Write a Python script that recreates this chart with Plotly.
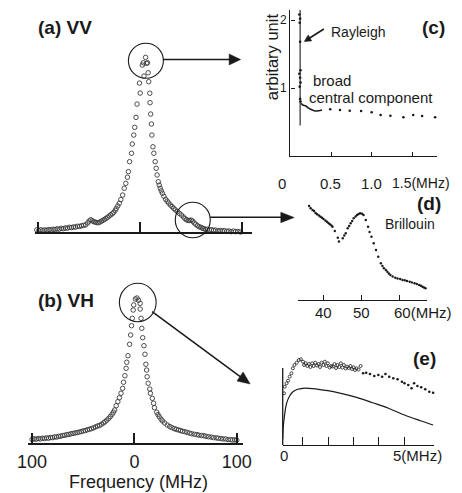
import plotly.graph_objects as go

W, H = 462, 493
FONT = "Liberation Sans, Arial, sans-serif"
INK = "#1a1a1a"

# ---------------- data ----------------
# (a) VV spectrum: frequency (MHz), normalized intensity
vv_freq = [-101, -99, -97, -95, -93, -91, -89, -87, -85, -83, -81, -79, -77, -75, -73, -71,
           -69, -67, -65, -63, -61, -59, -57, -55, -53, -51, -49.5, -48, -46.5, -45, -43.5,
           -42, -40.5, -39, -37.5, -36, -34.5, -33, -31.5, -30, -28.5, -27, -25.5, -24, -23,
           -21.5, -20, -18.5, -16.7, -15.2, -13.6, -12, -11.1, -9.9, -8, -7.3, -5.8, -4.9,
           -3.6, -2.6, 0.5, -0.2, 4.2, 2.6, 3.6, 5.8, 6.8, 7.7,
           8.3, 8.9, 9.9, 10.2, 10.8, 11.5, 12.0, 13.0, 13.9, 15.2, 16.2, 17.1, 18.3, 19.2,
           20.2, 21.2, 22.3, 23.8, 25.5, 27, 28.5, 30.2, 31.8, 33.5, 35, 37, 39, 41, 43,
           44.5, 46, 47.5, 49, 50.5, 52, 53.5, 55, 56.8, 58.4, 60, 61.5, 63, 64.6, 66.5,
           68.5, 70.5, 72.5, 74.5, 77, 79, 81, 83, 85.5, 87.5, 89.7, 92, 94, 96.5, 99]
vv_int = [0.012, 0.008, 0.013, 0.009, 0.012, 0.010, 0.014, 0.012, 0.016, 0.014, 0.018, 0.016,
          0.021, 0.019, 0.023, 0.022, 0.027, 0.025, 0.029, 0.028, 0.033, 0.032, 0.036, 0.038,
          0.041, 0.052, 0.063, 0.070, 0.064, 0.059, 0.056, 0.054, 0.053, 0.057, 0.062, 0.067,
          0.072, 0.078, 0.084, 0.091, 0.098, 0.104, 0.112, 0.124, 0.135, 0.149, 0.164, 0.185,
          0.211, 0.250, 0.278, 0.313, 0.345, 0.402, 0.450, 0.503, 0.554, 0.598, 0.655, 0.731,
          0.794, 0.851, 0.891, 0.954, 0.967, 0.998, 0.964, 0.967,
          0.910, 0.859, 0.793, 0.739, 0.674, 0.617, 0.554, 0.487, 0.450, 0.402, 0.364, 0.326,
          0.287, 0.268, 0.250, 0.235, 0.221, 0.204, 0.187, 0.176, 0.165, 0.154, 0.145, 0.135,
          0.126, 0.117, 0.106, 0.097, 0.086, 0.076, 0.070, 0.066, 0.066, 0.068, 0.062, 0.052,
          0.044, 0.036, 0.030, 0.027, 0.022, 0.019, 0.015, 0.016, 0.012, 0.013, 0.010, 0.011,
          0.007, 0.009, 0.006, 0.008, 0.004, 0.006, 0.002, 0.005, 0.002, 0.003, 0.000]

# (b) VH spectrum
vh_freq = [-100, -98, -96, -94, -92, -90, -88, -86, -84, -82, -80, -78, -76, -74, -72, -70,
           -68, -66, -64, -62, -60, -58, -56, -54, -52, -50, -48, -46, -44, -42, -40, -38,
           -36, -34, -32, -30, -28.7, -27, -25, -23.5, -21.8, -20.5, -19.3, -17.8, -16.2,
           -14.7, -13.1, -11.5, -10.6, -9.3, -8.1, -7.5, -6.3, -4.7, -3.7, -2.8, -2.1, -1.2,
           -0.7, 0.9, 2.5, 4.0, 5.6, 5.6, 6.5, 7.2, 8.1, 9.3, 10.3, 11.2, 11.9, 12.4, 13.4,
           15, 15.6, 17.5, 18.7, 19.6, 21.8, 23, 24.3, 26, 27.4, 29.5, 32.1, 34.5, 36.7, 39,
           41, 43, 45, 47, 49.3, 51.5, 54, 56, 58.6, 61, 63, 65.5, 67.9, 70, 72.5, 75, 77.3,
           80, 82, 84.5, 86.6, 89, 91.5, 94, 96, 98, 100]
vh_int = [0.024, 0.029, 0.026, 0.031, 0.028, 0.033, 0.031, 0.035, 0.033, 0.038, 0.037, 0.042,
          0.041, 0.046, 0.047, 0.052, 0.053, 0.058, 0.059, 0.064, 0.066, 0.069, 0.072, 0.075,
          0.079, 0.083, 0.086, 0.091, 0.095, 0.099, 0.104, 0.111, 0.117, 0.121, 0.130, 0.139,
          0.147, 0.158, 0.170, 0.183, 0.198, 0.213, 0.228, 0.257, 0.285, 0.312, 0.343, 0.377,
          0.419, 0.464, 0.515, 0.557, 0.602, 0.681, 0.745, 0.809, 0.860, 0.917, 0.952, 0.993,
          1.000, 0.985, 0.963, 0.924, 0.860, 0.791, 0.726, 0.671, 0.612, 0.543, 0.503, 0.457,
          0.412, 0.372, 0.343, 0.308, 0.274, 0.243, 0.212, 0.196, 0.181, 0.165, 0.152, 0.138,
          0.124, 0.114, 0.106, 0.099, 0.094, 0.090, 0.086, 0.081, 0.078, 0.073, 0.068, 0.064,
          0.060, 0.058, 0.054, 0.052, 0.050, 0.046, 0.043, 0.041, 0.037, 0.035, 0.033, 0.031,
          0.028, 0.028, 0.024, 0.023, 0.021, 0.022, 0.020]

# (c) low-frequency VV: Rayleigh line and broad central component (MHz, arb. unit)
rayleigh_line_x = [0.12, 0.12]
rayleigh_line_y = [0.45, 2.15]
rayleigh_pts_x = [0.11, 0.12, 0.115, 0.12, 0.125, 0.11, 0.12, 0.125, 0.115, 0.12, 0.125]
rayleigh_pts_y = [2.08, 2.02, 1.96, 1.68, 1.26, 1.21, 1.15, 1.08, 1.02, 0.84, 0.80]
broad_curve_x = [0.133, 0.153, 0.19, 0.23, 0.27, 0.31, 0.35, 0.39]
broad_curve_y = [0.775, 0.75, 0.735, 0.70, 0.676, 0.662, 0.666, 0.676]
broad_dots_x = [0.49, 0.61, 0.73, 0.87, 1.0, 1.11, 1.23, 1.39, 1.51, 1.62, 1.78]
broad_dots_y = [0.687, 0.676, 0.666, 0.662, 0.643, 0.603, 0.593, 0.569, 0.603, 0.588, 0.569]

# (d) Brillouin region (MHz, arb.)
bril_freq = [36.1, 36.5, 37.0, 37.4, 37.8, 38.2, 38.7, 39.1, 39.5, 39.9, 40.4, 40.8, 41.2, 41.6,
             42.0, 42.3, 42.9, 43.7, 44.0, 45.0, 45.4, 45.8, 46.3, 46.7, 47.1, 47.5, 47.9, 48.4,
             48.8, 49.2, 49.6, 50.1, 50.5, 51.1, 51.7, 52.1, 52.6, 53.2, 53.8, 54.4, 55.1, 55.5,
             55.9, 56.4, 56.8, 57.2, 57.6, 58.2, 58.9, 59.5, 60.2, 60.8, 61.4, 62.0, 62.7, 63.3,
             64.0, 64.6, 65.2, 65.7, 66.1, 66.5, 66.9]
bril_int = [0.94, 0.917, 0.90, 0.89, 0.87, 0.857, 0.845, 0.833, 0.822, 0.81, 0.795, 0.783, 0.77,
            0.757, 0.745, 0.733, 0.69, 0.623, 0.585, 0.617, 0.645, 0.667, 0.717, 0.74, 0.767,
            0.79, 0.817, 0.835, 0.85, 0.86, 0.867, 0.862, 0.85, 0.80, 0.733, 0.68, 0.633, 0.567,
            0.50, 0.433, 0.367, 0.34, 0.317, 0.30, 0.283, 0.265, 0.25, 0.235, 0.223, 0.215, 0.21,
            0.20, 0.197, 0.19, 0.183, 0.176, 0.167, 0.16, 0.15, 0.142, 0.133, 0.125, 0.117]

# (e) VH low-frequency: measured points and calculated curve (MHz, arb.)
vh_low_circ_x = [0.26, 0.29, 0.36, 0.42, 0.48, 0.55, 0.61, 0.67, 0.76, 0.84, 0.92, 1.01, 1.11,
                 1.24, 1.37, 1.49, 1.62, 1.74, 1.87, 1.99, 2.12, 2.25, 2.37, 2.50, 2.62, 2.75,
                 2.88, 3.0, 3.12, 3.28, 1.05, 1.18, 1.30, 1.43, 1.56, 1.68, 1.81, 1.93, 2.06,
                 2.18, 2.31, 2.44, 2.56, 2.69, 2.81, 2.94, 3.06, 3.2]
vh_low_circ_y = [0.517, 0.583, 0.617, 0.643, 0.683, 0.717, 0.767, 0.80, 0.823, 0.85, 0.857,
                 0.833, 0.817, 0.81, 0.817, 0.823, 0.81, 0.823, 0.833, 0.817, 0.79, 0.81, 0.80,
                 0.817, 0.80, 0.783, 0.79, 0.777, 0.767, 0.79, 0.80, 0.79, 0.78, 0.79, 0.795,
                 0.78, 0.80, 0.79, 0.775, 0.785, 0.77, 0.78, 0.775, 0.765, 0.77, 0.76, 0.75, 0.755]
vh_low_dot_x = [3.38, 3.5, 3.65, 3.82, 3.98, 4.13, 4.26, 4.41, 4.57, 4.74, 4.91, 5.01, 5.16,
                5.29, 5.39, 5.52, 5.67, 5.83, 5.99, 6.14]
vh_low_dot_y = [0.717, 0.723, 0.71, 0.69, 0.70, 0.683, 0.71, 0.683, 0.667, 0.657, 0.633, 0.617,
                0.60, 0.567, 0.617, 0.59, 0.577, 0.557, 0.533, 0.523]
calc_x = [0.21, 0.23, 0.29, 0.36, 0.48, 0.61, 0.8, 0.99, 1.24, 1.62, 1.99, 2.5, 3.12, 3.75,
          4.38, 5.01, 5.64, 6.14]
calc_y = [0.057, 0.183, 0.317, 0.417, 0.49, 0.533, 0.557, 0.567, 0.567, 0.557, 0.543, 0.517,
          0.477, 0.423, 0.367, 0.30, 0.243, 0.20]

# tick labels
ab_tickvals = [-100, 0, 100]
ab_ticktext = ["100", "0", "100"]
c_tickvals = [0.5, 1.0, 1.5]
c_ticktext = ["0.5", "1.0", "1.5"]
d_tickvals = [40, 50, 60]
d_ticktext = ["40", "50", "60"]
e_tickvals = [1, 2, 3, 4, 5]


def X(p):
    return p / W


def Y(p):
    return 1 - p / H


fig = go.Figure()

open_marker = dict(symbol="circle-open", size=4.5, color="#3a3a3a", line=dict(width=0.9, color="#3a3a3a"))

fig.add_trace(go.Scatter(x=vv_freq, y=vv_int, mode="markers", marker=open_marker,
                         xaxis="x", yaxis="y", cliponaxis=False))
fig.add_trace(go.Scatter(x=vh_freq, y=vh_int, mode="markers", marker=open_marker,
                         xaxis="x2", yaxis="y2", cliponaxis=False))

# (c)
fig.add_trace(go.Scatter(x=rayleigh_line_x, y=rayleigh_line_y, mode="lines",
                         line=dict(color=INK, width=1.1), xaxis="x3", yaxis="y3"))
fig.add_trace(go.Scatter(x=rayleigh_pts_x, y=rayleigh_pts_y, mode="markers",
                         marker=dict(size=2.6, color=INK), xaxis="x3", yaxis="y3", cliponaxis=False))
fig.add_trace(go.Scatter(x=broad_curve_x, y=broad_curve_y, mode="lines",
                         line=dict(color=INK, width=1.6, shape="spline"), xaxis="x3", yaxis="y3"))
fig.add_trace(go.Scatter(x=broad_dots_x, y=broad_dots_y, mode="markers",
                         marker=dict(size=2.6, color=INK), xaxis="x3", yaxis="y3", cliponaxis=False))

# (d)
fig.add_trace(go.Scatter(x=bril_freq, y=bril_int, mode="markers",
                         marker=dict(size=2.4, color=INK), xaxis="x4", yaxis="y4", cliponaxis=False))

# (e)
fig.add_trace(go.Scatter(x=calc_x, y=calc_y, mode="lines",
                         line=dict(color=INK, width=1.2, shape="spline"), xaxis="x5", yaxis="y5"))
fig.add_trace(go.Scatter(x=vh_low_circ_x, y=vh_low_circ_y, mode="markers",
                         marker=dict(symbol="circle-open", size=3, color=INK, line=dict(width=0.8)),
                         xaxis="x5", yaxis="y5", cliponaxis=False))
fig.add_trace(go.Scatter(x=vh_low_dot_x, y=vh_low_dot_y, mode="markers",
                         marker=dict(size=2.6, color=INK), xaxis="x5", yaxis="y5", cliponaxis=False))

axis_common = dict(showgrid=False, zeroline=False, showline=True, linecolor=INK, fixedrange=True)

layout = dict(
    width=W, height=H, margin=dict(l=0, r=0, t=0, b=0),
    paper_bgcolor="white", plot_bgcolor="rgba(0,0,0,0)", showlegend=False,
    font=dict(family=FONT, color=INK),
    # (a)
    xaxis=dict(domain=[X(25), X(252)], range=[(25 - 134.5) / 1.065, (252 - 134.5) / 1.065],
               anchor="y", linewidth=1.5, ticks="inside", ticklen=10, tickwidth=1.5, tickcolor=INK,
               tickvals=ab_tickvals, showticklabels=False, **axis_common),
    yaxis=dict(domain=[Y(232), Y(40)], range=[0, 192 / 175], anchor="x", visible=False),
    # (b)
    xaxis2=dict(domain=[X(18), X(242)], range=[(18 - 129) / 1.07, (242 - 129) / 1.07],
                anchor="y2", linewidth=1.5, ticks="inside", ticklen=10, tickwidth=1.5, tickcolor=INK,
                tickvals=ab_tickvals, ticktext=ab_ticktext, tickfont=dict(size=18, family=FONT),
                ticklabelstandoff=2, **axis_common),
    yaxis2=dict(domain=[Y(443), Y(285)], range=[0, 158 / 145], anchor="x2", visible=False),
    # (c)
    xaxis3=dict(domain=[X(292), X(445)], range=[0, (445 - 292) / 85], anchor="y3", linewidth=1.3,
                ticks="inside", ticklen=4, tickwidth=1.2, tickcolor=INK, tickvals=c_tickvals,
                showticklabels=False, **axis_common),
    yaxis3=dict(domain=[Y(156), Y(10)], range=[0, 146 / 68], anchor="x3", linewidth=1.3,
                ticks="inside", ticklen=4, tickwidth=1.2, tickcolor=INK, tickvals=[1, 2],
                ticktext=["1", "2"], tickfont=dict(size=12, family=FONT), ticklabelstandoff=0,
                **axis_common),
    # (d)
    xaxis4=dict(domain=[X(300), X(435)], range=[40 + (300 - 327) / 3.95, 40 + (435 - 327) / 3.95],
                anchor="y4", linewidth=1.3, ticks="inside", ticklen=5, tickwidth=1.2, tickcolor=INK,
                tickvals=d_tickvals, showticklabels=False, **axis_common),
    yaxis4=dict(domain=[Y(300), Y(195)], range=[0, 1.05], anchor="x4", visible=False),
    # (e) -- y range extends above the drawn axis line so the top points are kept
    xaxis5=dict(domain=[X(284), X(442)], range=[(284 - 278.5) / 26.5, (442 - 278.5) / 26.5],
                anchor="y5", linewidth=1.3, ticks="inside", ticklen=8, tickwidth=1.2, tickcolor=INK,
                tickvals=e_tickvals, showticklabels=False, **axis_common),
    yaxis5=dict(domain=[Y(445), Y(350)], range=[0, 0.95], anchor="x5", visible=False),
)
fig.update_layout(**layout)


def ann(text, x, y, size, bold=False, xanchor="left", angle=0):
    t = f"<b>{text}</b>" if bold else text
    return dict(text=t, x=X(x), y=Y(y), xref="paper", yref="paper", showarrow=False,
                xanchor=xanchor, yanchor="middle", textangle=angle,
                font=dict(size=size, family=FONT, color=INK))


annotations = [
    ann("(a) VV", 26, 28, 19, bold=True),
    ann("(b) VH", 26, 300, 19, bold=True),
    ann("(c)", 427, 28, 19, bold=True),
    ann("(d)", 422, 204, 19, bold=True),
    ann("(e)", 418, 358, 19, bold=True),
    ann("Rayleigh", 332, 32, 14),
    ann("broad", 314, 80, 15),
    ann("central component", 309, 97, 15),
    ann("Brillouin", 389, 224, 14),
    ann("arbitary unit", 273, 57, 16.5, xanchor="center", angle=-90),
    ann("Frequency (MHz)", 133, 482, 18, xanchor="center"),
    # (c) tick labels
    ann("0", 283, 183, 15, xanchor="center"),
    ann(c_ticktext[0], 334, 183, 15, xanchor="center"),
    ann(c_ticktext[1], 377, 183, 15, xanchor="center"),
    ann(c_ticktext[2] + "(MHz)", 461, 183, 14, xanchor="right"),
    # (d) tick labels
    ann(d_ticktext[0], 327, 312, 15, xanchor="center"),
    ann(d_ticktext[1], 366, 312, 15, xanchor="center"),
    ann(d_ticktext[2] + "(MHz)", 398, 312, 15),
    # (e) tick labels
    ann("0", 285, 455, 15, xanchor="center"),
    ann("5(MHz)", 397, 455, 15),
]
fig.update_layout(annotations=annotations)


def line(x0, y0, x1, y1, w=1.3):
    return dict(type="line", xref="paper", yref="paper", x0=X(x0), y0=Y(y0), x1=X(x1), y1=Y(y1),
                line=dict(color=INK, width=w))


def circle(x0, y0, x1, y1):
    return dict(type="circle", xref="paper", yref="paper", x0=X(x0), y0=Y(y0), x1=X(x1), y1=Y(y1),
                line=dict(color=INK, width=1.1))


def tri(pts):
    path = "M " + " L ".join(f"{X(a):.5f},{Y(b):.5f}" for a, b in pts) + " Z"
    return dict(type="path", xref="paper", yref="paper", path=path, fillcolor=INK,
                line=dict(color=INK, width=0.5))


shapes = [
    circle(122.7, 43.3, 159.3, 78.3),
    line(159, 59.5, 229, 59.5, 1.5),
    tri([(228, 54), (240, 59.5), (228, 65)]),
    circle(171.7, 202.3, 208.3, 237.7),
    line(208.3, 217.3, 283, 217.3, 1.5),
    tri([(282, 212.3), (296, 217.5), (282, 222.7)]),
    circle(113.3, 283.3, 151.7, 321.7),
    line(147.5, 311.7, 241, 377.7, 1.5),
    tri([(250, 384), (236.2, 381.0), (242.6, 372.0)]),
    line(327, 29, 311, 38.7, 1.6),
    tri([(306.5, 41.5), (314.3, 40.9), (310.7, 34.9)]),
    # (e) vertical axis line
    line(284, 445, 284, 368, 1.3),
]
fig.update_layout(shapes=shapes)

fig.write_html("out.html")
